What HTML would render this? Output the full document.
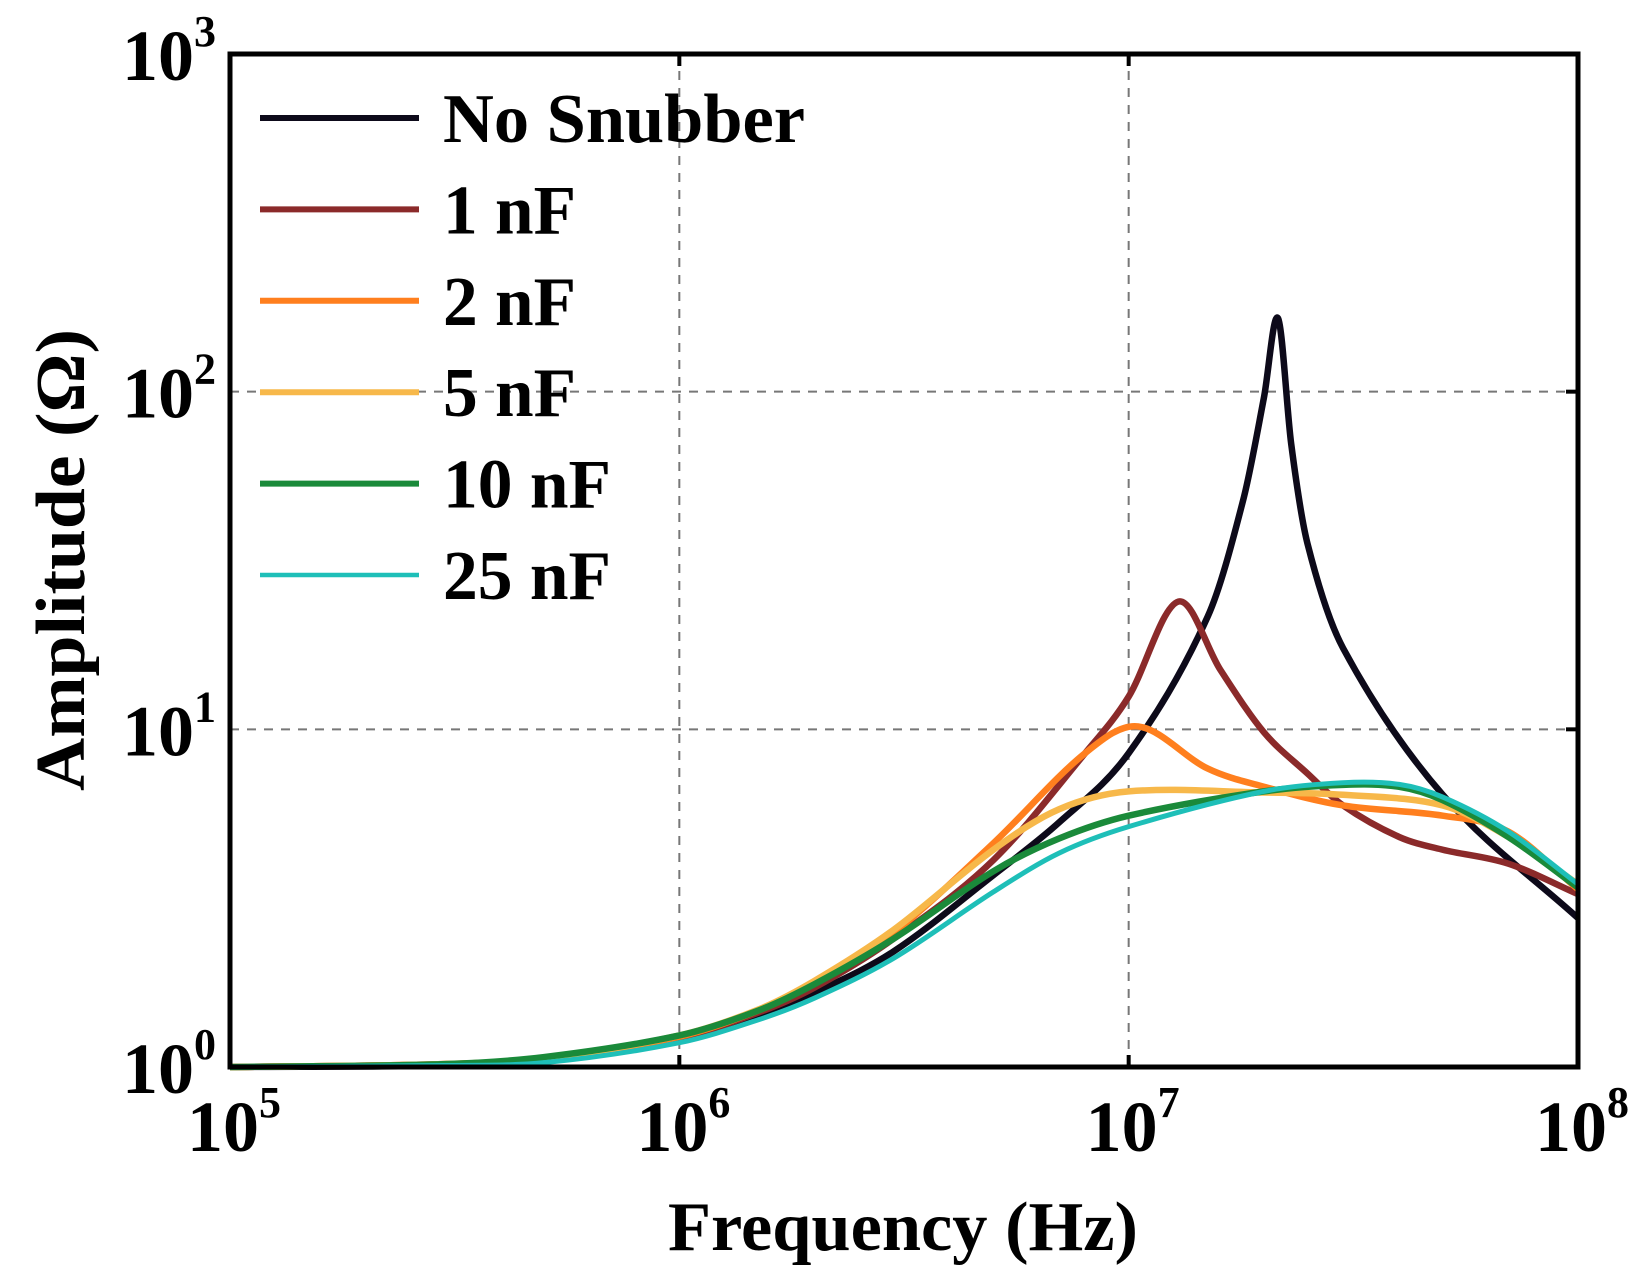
<!DOCTYPE html>
<html><head><meta charset="utf-8"><style>
html,body{margin:0;padding:0;background:#fff;}
svg{display:block;font-family:"Liberation Serif",serif;font-weight:bold;}
</style></head><body>
<svg id="chart" width="1641" height="1284" viewBox="0 0 1641 1284">
<g id="grid"></g>
<g id="series"></g>
<rect x="230" y="54" width="1348" height="1013" fill="none" stroke="#000" stroke-width="5"/>
<g id="ticks"></g>
<g id="legend"></g>
<text x="903" y="1250" font-size="70" text-anchor="middle" textLength="470" lengthAdjust="spacingAndGlyphs">Frequency (Hz)</text>
<text transform="translate(84,560) rotate(-90)" font-size="70" text-anchor="middle" textLength="462" lengthAdjust="spacingAndGlyphs">Amplitude (Ω)</text>
</svg>
<script>
const xTicks=[5,6,7,8];
const yTicks=[0,1,2,3];
const seriesNames=["No Snubber","1 nF","2 nF","5 nF","10 nF","25 nF"];
const seriesColors=["#0d0a1a","#8b2a2a","#ff7f1e","#f7b84a","#1a8a3a","#1ebfb8"];
const seriesWidths=[6.5,6.5,6.5,6.5,6.5,5];
const fBlack=[1e5,3e5,5e5,1e6,1.5e6,2e6,3e6,5e6,7e6,1e7,1.5e7,1.8e7,2e7,2.15e7,2.3e7,2.5e7,3e7,5e7,1e8];
const vBlack=[1.0,1.01,1.05,1.2,1.42,1.66,2.2,3.7,5.3,8.5,21.6,48,96,165,70,35.5,17.4,6.4,2.76];
const fRed=[1e5,3e5,5e5,1e6,1.5e6,2e6,3e6,5e6,8e6,1e7,1.29e7,1.6e7,2e7,2.5e7,3e7,4e7,5e7,7e7,1e8];
const vRed=[1.0,1.02,1.06,1.22,1.45,1.72,2.4,4.1,8.5,12.5,23.9,15,9.8,7.4,5.95,4.8,4.4,4.0,3.25];
const fOrange=[1e5,3e5,5e5,1e6,1.5e6,2e6,3e6,5e6,8e6,1.05e7,1.5e7,2e7,3e7,5e7,7e7,1e8];
const vOrange=[1.0,1.02,1.06,1.23,1.47,1.77,2.5,4.6,8.5,10.2,7.65,6.76,5.95,5.55,4.98,3.36];
const fYellow=[1e5,3e5,5e5,1e6,1.5e6,2e6,3e6,5e6,7e6,1e7,2e7,3e7,5e7,7e7,1e8];
const vYellow=[1.0,1.02,1.06,1.24,1.48,1.8,2.55,4.4,5.8,6.55,6.5,6.4,5.95,4.8,3.48];
const fGreen=[1e5,3e5,5e5,1e6,1.5e6,2e6,3e6,5e6,7e6,1e7,2e7,3e7,4e7,5e7,7e7,1e8];
const vGreen=[1.0,1.02,1.07,1.24,1.47,1.76,2.4,3.8,4.75,5.55,6.55,6.85,6.76,6.17,4.8,3.4];
const fCyan=[1e5,3e5,5e5,1e6,1.5e6,2e6,3e6,5e6,7e6,1e7,2e7,3e7,4e7,5e7,7e7,1e8];
const vCyan=[1.0,1.01,1.03,1.18,1.38,1.6,2.1,3.3,4.3,5.15,6.55,6.95,6.87,6.3,4.98,3.48];
const allF=[fBlack,fRed,fOrange,fYellow,fGreen,fCyan];
const allV=[vBlack,vRed,vOrange,vYellow,vGreen,vCyan];

const X0=230,X1=1578,Y0=1067,Y1=54;
function xs(f){return X0+(Math.log10(f)-5)/3*(X1-X0);}
function ys(v){return Y0-Math.log10(v)/3*(Y0-Y1);}
const NS="http://www.w3.org/2000/svg";
function mk(t,a,p){const e=document.createElementNS(NS,t);for(const k in a)e.setAttribute(k,a[k]);p.appendChild(e);return e;}
const grid=document.getElementById('grid'),ticks=document.getElementById('ticks');
xTicks.forEach(d=>{const x=X0+(d-5)/3*(X1-X0);
 if(d>5&&d<8){const l=mk('line',{x1:x,x2:x,y1:Y1,y2:Y0,stroke:'#777','stroke-width':2,'stroke-dasharray':'9,8'},grid);
 
 const tm=mk('line',{x1:x,x2:x,y1:Y0,y2:Y0-12,stroke:'#000','stroke-width':4},grid);
 const tm2=mk('line',{x1:x,x2:x,y1:Y1,y2:Y1+12,stroke:'#000','stroke-width':4},grid);}
 const t=mk('text',{x:x+4,y:1151,'font-size':72,'text-anchor':'middle'},ticks);
 
 t.innerHTML='10<tspan dy="-34" font-size="44">'+d+'</tspan>';});
yTicks.forEach(d=>{const y=Y0-d/3*(Y0-Y1);
 if(d>0&&d<3){const l=mk('line',{x1:X0,x2:X1,y1:y,y2:y,stroke:'#777','stroke-width':2,'stroke-dasharray':'9,8'},grid);
 
 const tm=mk('line',{x1:X1,x2:X1-12,y1:y,y2:y,stroke:'#000','stroke-width':4},grid);}
 const t=mk('text',{x:216,y:y+26,'font-size':72,'text-anchor':'end'},ticks);
 
 t.innerHTML='10<tspan dy="-34" font-size="44">'+d+'</tspan>';});
function pathFor(F,V){const p=F.map((f,i)=>[xs(f),ys(V[i])]);const n=p.length;
 const m=p.map((q,i)=>{const a=p[Math.max(0,i-1)],b=p[Math.min(n-1,i+1)];return (b[1]-a[1])/(b[0]-a[0]);});
 let d='M'+p[0][0]+','+p[0][1];
 for(let i=0;i<n-1;i++){const b=p[i],c=p[i+1],dx=(c[0]-b[0])/3;
 d+=' C'+(b[0]+dx)+','+(b[1]+m[i]*dx)+' '+(c[0]-dx)+','+(c[1]-m[i+1]*dx)+' '+c[0]+','+c[1];}
 return d;}
const sg=document.getElementById('series'),lg=document.getElementById('legend');
seriesNames.forEach((n,i)=>{const p=mk('path',{d:pathFor(allF[i],allV[i]),fill:'none',stroke:seriesColors[i],'stroke-width':seriesWidths[i],'stroke-linejoin':'round'},sg);
 
 });
const legendLens=[362,133,133,133,168,168];
seriesNames.forEach((n,i)=>{const y=118+i*91.4;
 const l=mk('line',{x1:260,x2:419,y1:y,y2:y,stroke:seriesColors[i],'stroke-width':i==5?4.5:6},lg);
 
 const t=mk('text',{x:443,y:y+24,'font-size':70,textLength:legendLens[i],lengthAdjust:'spacingAndGlyphs'},lg);t.textContent=n;
 });
</script>
</body></html>
